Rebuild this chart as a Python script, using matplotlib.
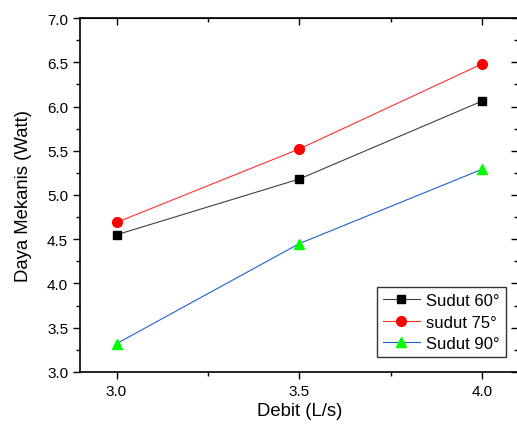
import matplotlib.pyplot as plt
from matplotlib.ticker import MultipleLocator

debit = [3.0, 3.5, 4.0]
sudut60 = [4.55, 5.18, 6.06]
sudut75 = [4.69, 5.52, 6.48]
sudut90 = [3.32, 4.45, 5.29]

plt.rcParams['font.family'] = ['Liberation Sans', 'DejaVu Sans']

fig = plt.figure(figsize=(5.17, 4.31), dpi=100)
# right spine sits just past the image edge, as in the original
ax = fig.add_axes([0.1547, 0.1346, 0.848, 0.8213])

ax.plot(debit, sudut60, color='#404040', lw=0.8, marker='s', ms=6,
        mfc='black', mec='black', label='Sudut 60°')
ax.plot(debit, sudut75, color='#ff3030', lw=0.8, marker='o', ms=7,
        mfc='red', mec='red', label='sudut 75°')
ax.plot(debit, sudut90, color='#2060d0', lw=0.8, marker='^', ms=7,
        mfc='#00ff00', mec='#00ff00', label='Sudut 90°')

ax.set_xlim(2.9, 4.1)
ax.set_ylim(3.0, 7.0)
ax.xaxis.set_major_locator(MultipleLocator(0.5))
ax.xaxis.set_minor_locator(MultipleLocator(0.25))
ax.yaxis.set_major_locator(MultipleLocator(0.5))
ax.yaxis.set_minor_locator(MultipleLocator(0.25))
ax.tick_params(which='both', direction='out', top=False, right=False, labelsize=11, pad=3.5)
ax.tick_params(which='major', length=5, width=1)
ax.tick_params(which='minor', length=3, width=1)
for s in ax.spines.values():
    s.set_linewidth(1.2)

# inward ticks on top and right
sec = ax.secondary_xaxis('top')
sec.set_xticks([3.0, 3.5, 4.0])
sec.xaxis.set_minor_locator(MultipleLocator(0.25))
sec.tick_params(which='both', direction='in', labeltop=False)
sec.tick_params(which='major', length=5, width=1)
sec.tick_params(which='minor', length=3, width=1)
secy = ax.secondary_yaxis('right')
secy.yaxis.set_major_locator(MultipleLocator(0.5))
secy.yaxis.set_minor_locator(MultipleLocator(0.25))
secy.tick_params(which='both', direction='in', labelright=False)
secy.tick_params(which='major', length=5, width=1)
secy.tick_params(which='minor', length=3, width=1)

ax.set_xlabel('Debit (L/s)', fontsize=13.3, labelpad=3)
ax.set_ylabel('Daya Mekanis (Watt)', fontsize=13.3, labelpad=11)

leg = ax.legend(loc='lower right', bbox_to_anchor=(0.9715, 0.042), fontsize=12,
                frameon=True, fancybox=False, edgecolor='black',
                handlelength=2.2, borderpad=0.35, labelspacing=0.4,
                handletextpad=0.4, borderaxespad=0)
leg.get_frame().set_linewidth(1.0)

fig.savefig('out.png', dpi=100)
